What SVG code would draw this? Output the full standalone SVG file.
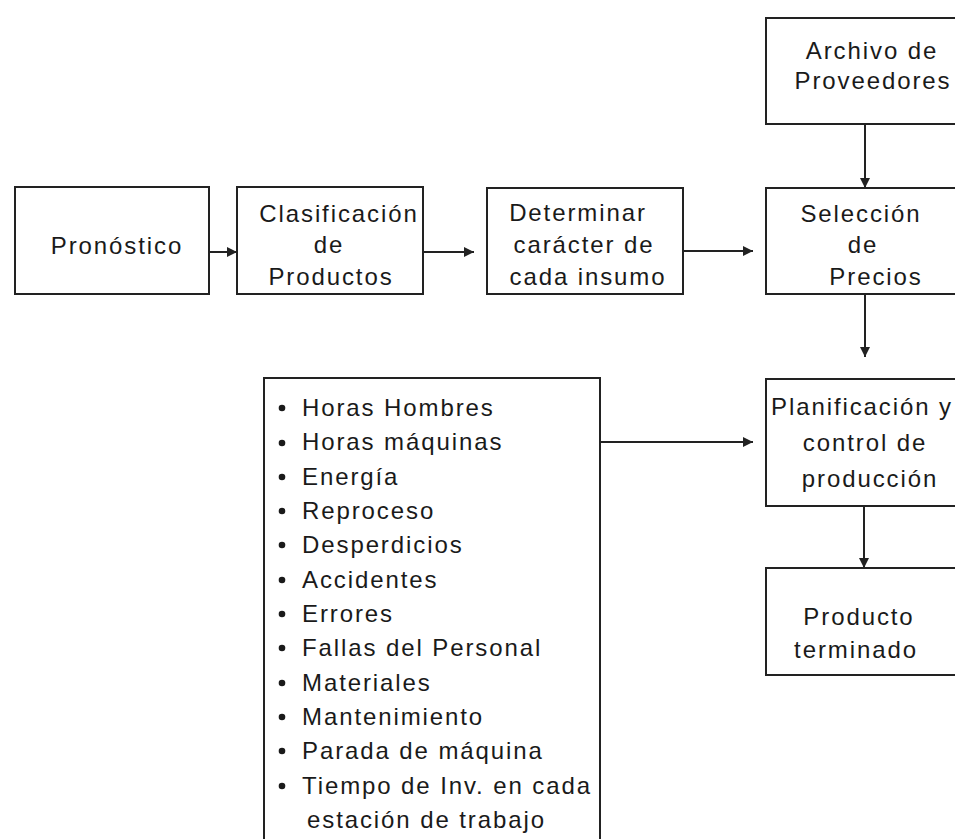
<svg xmlns="http://www.w3.org/2000/svg" width="955" height="839" viewBox="0 0 955 839">
  <style>
    .box { fill: #ffffff; stroke: #222222; stroke-width: 2; }
    .lbl { font-family: "Liberation Sans", Arial, sans-serif; font-size: 24px; letter-spacing: 1.9px; fill: #1a1a1a; text-anchor: middle; }
    .item { font-family: "Liberation Sans", Arial, sans-serif; font-size: 24px; letter-spacing: 1.9px; fill: #1a1a1a; }
    .link { fill: none; stroke: #222222; stroke-width: 2; marker-end: url(#head); }
    .dot { fill: #1a1a1a; }
  </style>
  <defs>
    <marker id="head" markerUnits="userSpaceOnUse" markerWidth="12" markerHeight="12" refX="10" refY="5" orient="auto">
      <path d="M0,0 L10,5 L0,10 Z" fill="#222222"/>
    </marker>
  </defs>
  <rect width="955" height="839" fill="#ffffff"/>

  <g id="pronostico">
    <rect class="box" x="15" y="187" width="194" height="107"/>
    <text class="lbl" x="117" y="254">Pronóstico</text>
  </g>

  <g id="clasificacion">
    <rect class="box" x="237" y="187" width="186" height="107"/>
    <text class="lbl" x="339" y="222">Clasificación</text>
    <text class="lbl" x="329" y="253">de</text>
    <text class="lbl" x="331" y="285">Productos</text>
  </g>

  <g id="determinar">
    <rect class="box" x="487" y="188" width="196" height="106"/>
    <text class="lbl" x="578" y="221">Determinar</text>
    <text class="lbl" x="584" y="253">carácter de</text>
    <text class="lbl" x="588" y="285">cada insumo</text>
  </g>

  <g id="archivo">
    <rect class="box" x="766" y="18" width="200" height="106"/>
    <text class="lbl" x="872" y="59">Archivo de</text>
    <text class="lbl" x="873" y="89">Proveedores</text>
  </g>

  <g id="seleccion">
    <rect class="box" x="766" y="188" width="200" height="106"/>
    <text class="lbl" x="861" y="222">Selección</text>
    <text class="lbl" x="863" y="253">de</text>
    <text class="lbl" x="876" y="285">Precios</text>
  </g>

  <g id="planificacion">
    <rect class="box" x="766" y="379" width="200" height="127"/>
    <text class="lbl" x="862" y="415">Planificación y</text>
    <text class="lbl" x="865" y="451">control de</text>
    <text class="lbl" x="870" y="487">producción</text>
  </g>

  <g id="producto">
    <rect class="box" x="766" y="568" width="200" height="107"/>
    <text class="lbl" x="859" y="625">Producto</text>
    <text class="lbl" x="856" y="658">terminado</text>
  </g>

  <g id="factores">
    <rect class="box" x="264" y="378" width="336" height="480"/>
    <g>
      <circle class="dot" cx="282" cy="408" r="3.3"/>
      <circle class="dot" cx="282" cy="443" r="3.3"/>
      <circle class="dot" cx="282" cy="477" r="3.3"/>
      <circle class="dot" cx="282" cy="511" r="3.3"/>
      <circle class="dot" cx="282" cy="545" r="3.3"/>
      <circle class="dot" cx="282" cy="580" r="3.3"/>
      <circle class="dot" cx="282" cy="614" r="3.3"/>
      <circle class="dot" cx="282" cy="648" r="3.3"/>
      <circle class="dot" cx="282" cy="683" r="3.3"/>
      <circle class="dot" cx="282" cy="717" r="3.3"/>
      <circle class="dot" cx="282" cy="751" r="3.3"/>
      <circle class="dot" cx="282" cy="786" r="3.3"/>
    </g>
    <text class="item" x="302" y="416">Horas Hombres</text>
    <text class="item" x="302" y="450">Horas máquinas</text>
    <text class="item" x="302" y="485">Energía</text>
    <text class="item" x="302" y="519">Reproceso</text>
    <text class="item" x="302" y="553">Desperdicios</text>
    <text class="item" x="302" y="588">Accidentes</text>
    <text class="item" x="302" y="622">Errores</text>
    <text class="item" x="302" y="656">Fallas del Personal</text>
    <text class="item" x="302" y="691">Materiales</text>
    <text class="item" x="302" y="725">Mantenimiento</text>
    <text class="item" x="302" y="759">Parada de máquina</text>
    <text class="item" x="302" y="794">Tiempo de Inv. en cada</text>
    <text class="item" x="307" y="828">estación de trabajo</text>
  </g>

  <g id="connectors">
    <line class="link" x1="209" y1="252" x2="237" y2="252"/>
    <line class="link" x1="423" y1="252" x2="474" y2="252"/>
    <line class="link" x1="683" y1="251" x2="753" y2="251"/>
    <line class="link" x1="865" y1="124" x2="865" y2="188"/>
    <line class="link" x1="865" y1="294" x2="865" y2="357"/>
    <line class="link" x1="600" y1="442" x2="753" y2="442"/>
    <line class="link" x1="864" y1="506" x2="864" y2="568"/>
  </g>
</svg>
